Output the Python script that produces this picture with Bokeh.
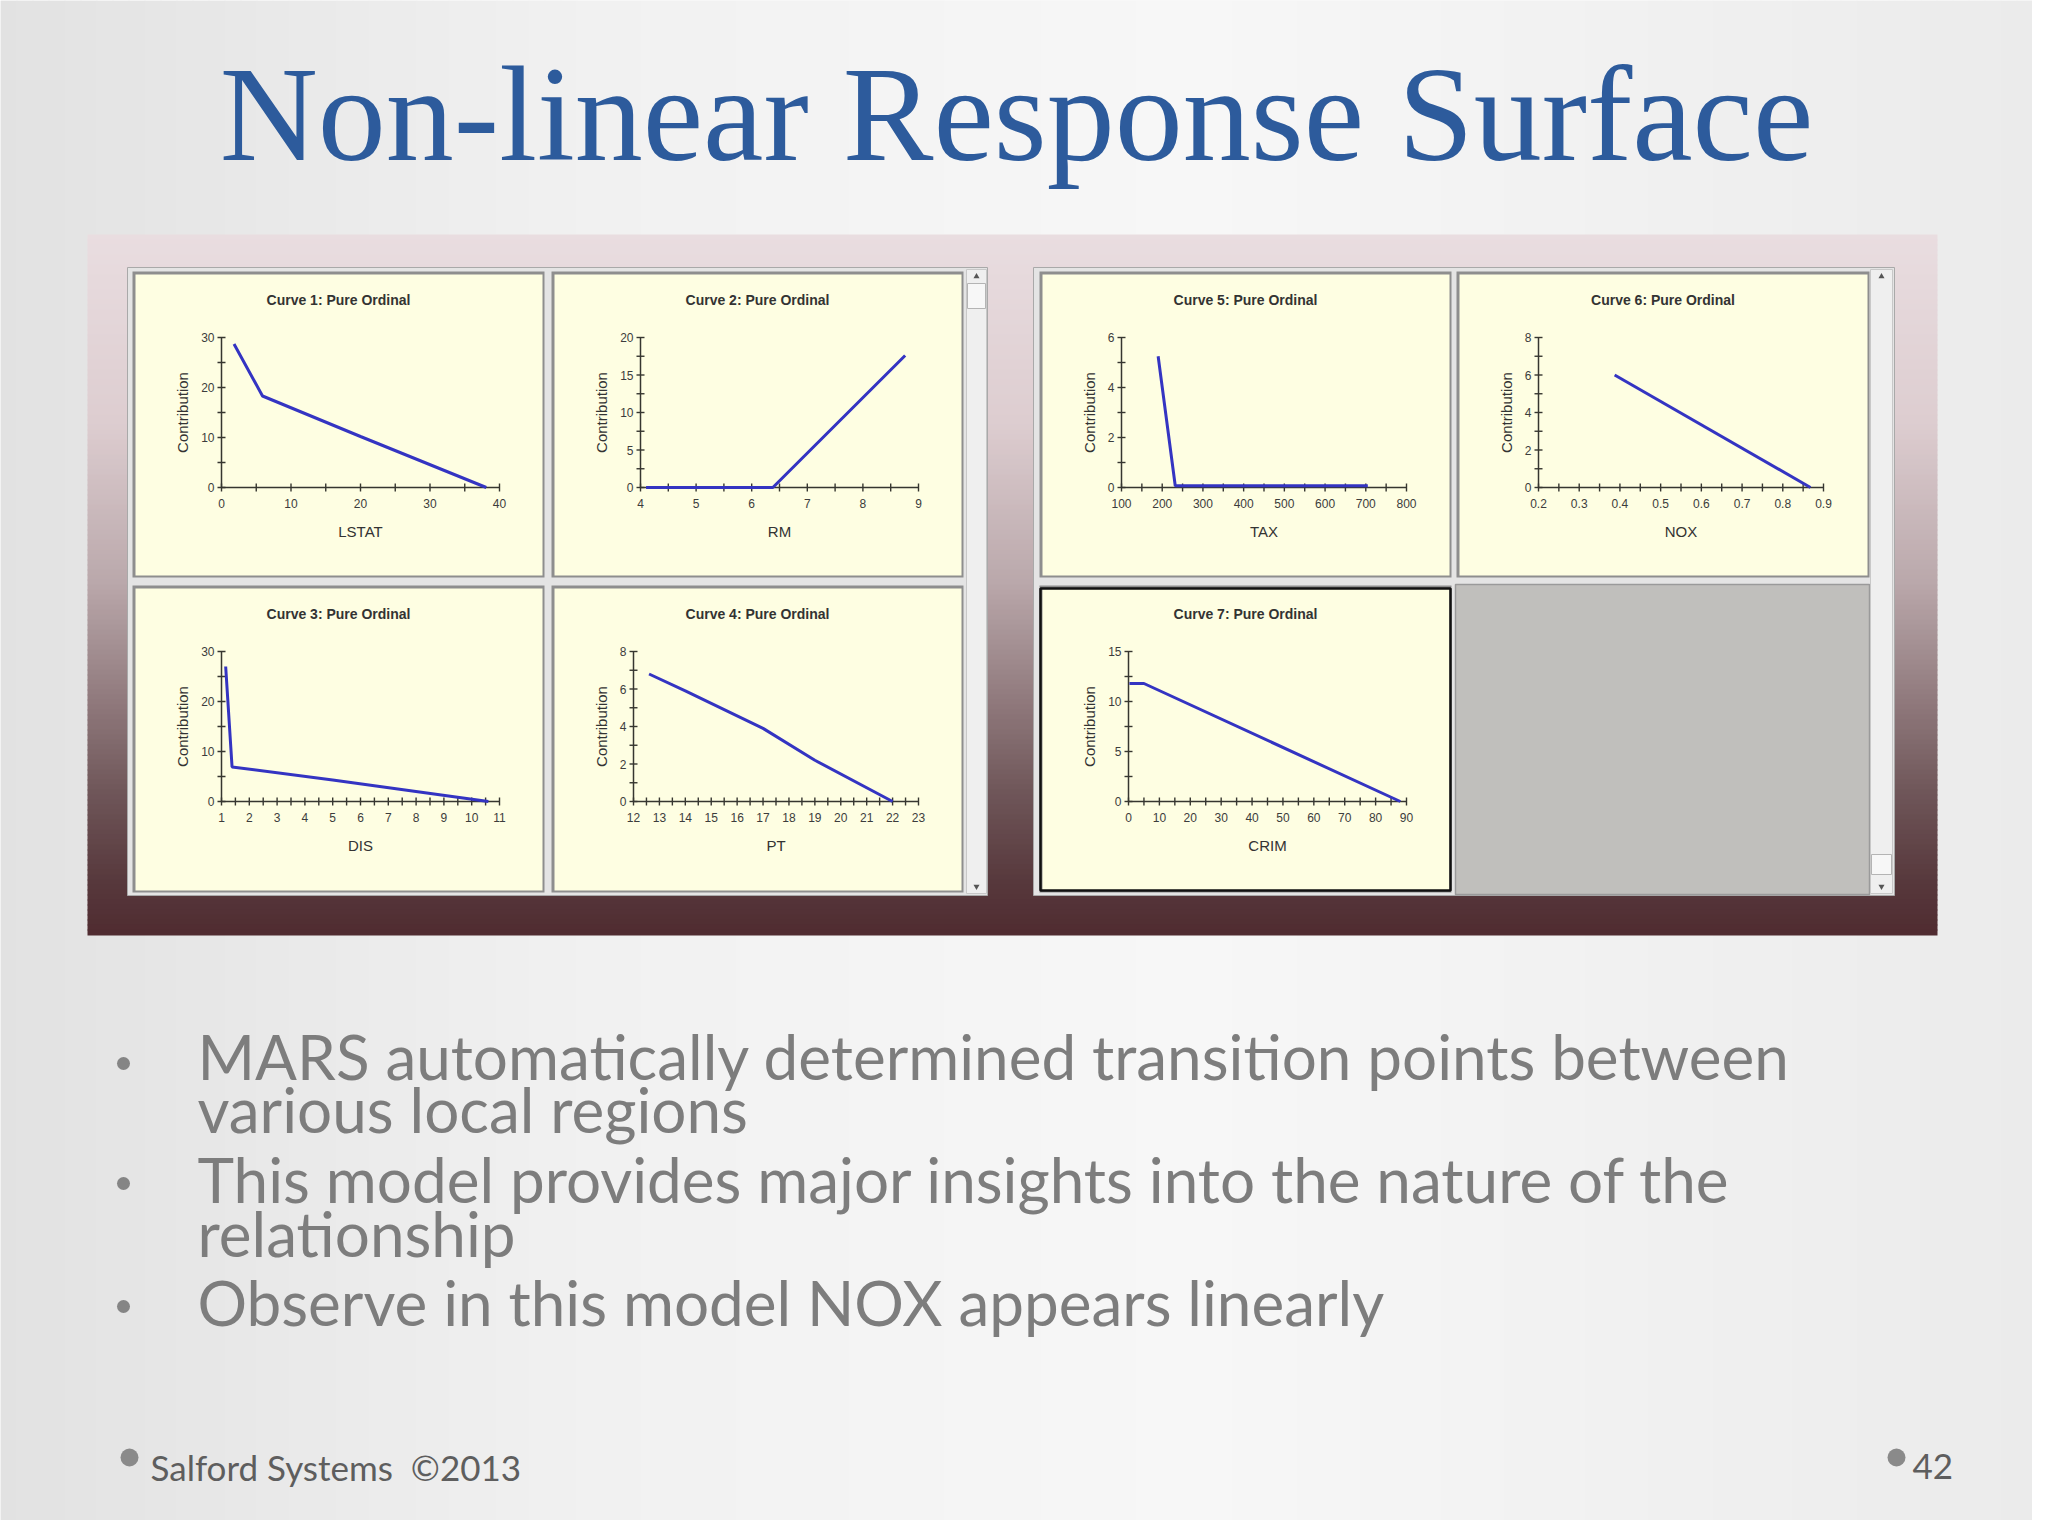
import numpy as np
from bokeh.plotting import figure
from bokeh.models import Range1d
from bokeh.core.properties import value
from bokeh.embed import file_html
from bokeh.resources import INLINE

# ---------------- data ----------------
slide_title = "Non-linear Response Surface"
bullet_lines = [
    "MARS automatically determined transition points between",
    "various local regions",
    "This model provides major insights into the nature of the",
    "relationship",
    "Observe in this model NOX appears linearly",
]
bullet_starts = [True, False, True, False, True]
footer_text = "Salford Systems \u00a0\u00a92013"
page_number = "42"

curve_titles = ["Curve 1: Pure Ordinal", "Curve 2: Pure Ordinal", "Curve 3: Pure Ordinal",
                "Curve 4: Pure Ordinal", "Curve 5: Pure Ordinal", "Curve 6: Pure Ordinal",
                "Curve 7: Pure Ordinal"]
variables = ["LSTAT", "RM", "DIS", "PT", "TAX", "NOX", "CRIM"]
y_axis_title = "Contribution"

lstat_x = [1.8, 5.9, 20.0, 38.1]
lstat_y = [28.7, 18.3, 10.2, 0.0]
rm_x = [4.1, 6.38, 8.76]
rm_y = [0.0, 0.0, 17.6]
dis_x = [1.15, 1.38, 5.0, 10.6]
dis_y = [27.0, 6.9, 4.3, 0.0]
pt_x = [12.6, 14.0, 17.0, 19.0, 22.0]
pt_y = [6.8, 5.9, 3.9, 2.2, 0.0]
tax_x = [190, 232, 705]
tax_y = [5.25, 0.07, 0.07]
nox_x = [0.387, 0.868]
nox_y = [6.0, 0.0]
crim_x = [0.3, 5.0, 88.0]
crim_y = [11.8, 11.8, 0.0]

curve_x = [lstat_x, rm_x, dis_x, pt_x, tax_x, nox_x, crim_x]
curve_y = [lstat_y, rm_y, dis_y, pt_y, tax_y, nox_y, crim_y]

x_limits = [(0, 40), (4, 9), (1, 11), (12, 23), (100, 800), (0.2, 0.9), (0, 90)]
y_limits = [(0, 30), (0, 20), (0, 30), (0, 8), (0, 6), (0, 8), (0, 15)]
x_major = [[0, 10, 20, 30, 40], [4, 5, 6, 7, 8, 9], [1, 2, 3, 4, 5, 6, 7, 8, 9, 10, 11],
           [12, 13, 14, 15, 16, 17, 18, 19, 20, 21, 22, 23],
           [100, 200, 300, 400, 500, 600, 700, 800],
           [0.2, 0.3, 0.4, 0.5, 0.6, 0.7, 0.8, 0.9],
           [0, 10, 20, 30, 40, 50, 60, 70, 80, 90]]
x_major_labels = [["0", "10", "20", "30", "40"], ["4", "5", "6", "7", "8", "9"],
                  ["1", "2", "3", "4", "5", "6", "7", "8", "9", "10", "11"],
                  ["12", "13", "14", "15", "16", "17", "18", "19", "20", "21", "22", "23"],
                  ["100", "200", "300", "400", "500", "600", "700", "800"],
                  ["0.2", "0.3", "0.4", "0.5", "0.6", "0.7", "0.8", "0.9"],
                  ["0", "10", "20", "30", "40", "50", "60", "70", "80", "90"]]
x_minor_step = [5, 0.5, 0.5, 0.5, 50, 0.05, 5]
y_major = [[0, 10, 20, 30], [0, 5, 10, 15, 20], [0, 10, 20, 30], [0, 2, 4, 6, 8],
           [0, 2, 4, 6], [0, 2, 4, 6, 8], [0, 5, 10, 15]]
y_major_labels = [["0", "10", "20", "30"], ["0", "5", "10", "15", "20"], ["0", "10", "20", "30"],
                  ["0", "2", "4", "6", "8"], ["0", "2", "4", "6"], ["0", "2", "4", "6", "8"],
                  ["0", "5", "10", "15"]]
y_minor_step = [5, 2.5, 5, 1, 1, 1, 2.5]

# ---------------- layout / style ----------------
W, H = 2032, 1520
OX, OY = 8, 8  # page margin: work in reference-pixel coordinates

panel_boxes = [(140, 279, 552, 585), (559, 279, 971, 585), (140, 593, 552, 900),
               (559, 593, 971, 900), (1047, 279, 1459, 585), (1464, 279, 1877, 585),
               (1047, 593, 1459, 900)]
selected_panel = 6

YELLOW = "#fefee2"
AXIS_C = "#363630"
LINE_C = "#3434c2"
TEXT_C = "#333333"
GRAY_TXT = "#7d7d7d"

CHART_FONT = value("Liberation Sans")


def hex2rgb(h):
    h = h.lstrip("#")
    return [int(h[i:i + 2], 16) for i in (0, 2, 4)]


def ramp(stops, v):
    for (a, ca), (b, cb) in zip(stops[:-1], stops[1:]):
        if a <= v <= b:
            t = (v - a) / (b - a) if b > a else 0
            ra, rb = hex2rgb(ca), hex2rgb(cb)
            c = [round(ra[k] + (rb[k] - ra[k]) * t) for k in range(3)]
            return "#%02x%02x%02x" % tuple(c)
    return stops[-1][1] if v > stops[-1][0] else stops[0][1]


p = figure(width=W, height=H, x_range=Range1d(OX, OX + W), y_range=Range1d(OY + H, OY),
           x_axis_location=None, y_axis_location=None, min_border=0,
           output_backend="svg", toolbar_location=None, title=None)
p.outline_line_color = None
p.grid.visible = False
p.background_fill_color = "#f2f2f2"
p.border_fill_color = "#f2f2f2"

# slide background (horizontal soft gradient)
bg_stops = [(8, "#e2e2e2"), (600, "#f1f1f1"), (1200, "#f7f7f7"), (2040, "#ebebeb")]
edges = np.arange(8, 2041, 16)
p.quad(left=edges[:-1], right=edges[1:] + 1, top=[OY] * (len(edges) - 1),
       bottom=[OY + H] * (len(edges) - 1),
       fill_color=[ramp(bg_stops, e + 8) for e in edges[:-1]], line_color=None)

# maroon gradient box
box_l, box_t, box_r, box_b = 95, 242, 1945, 945
box_stops = [(242, "#e9dde0"), (430, "#ddcdd0"), (590, "#baa8ab"), (700, "#937d80"),
             (800, "#6f5659"), (890, "#57383c"), (945, "#4f2b30")]
ys = np.arange(box_t, box_b + 1, 5)
p.quad(left=[box_l] * (len(ys) - 1), right=[box_r] * (len(ys) - 1), top=ys[:-1],
       bottom=np.minimum(ys[1:] + 1, box_b),
       fill_color=[ramp(box_stops, y + 2.5) for y in ys[:-1]], line_color=None)

# two application windows
for (wl, wt, wr, wb) in [(135, 275, 995, 903), (1041, 275, 1902, 903)]:
    p.quad(left=[wl], right=[wr], top=[wt], bottom=[wb], fill_color="#e4e4e4",
           line_color="#a9a9a9", line_width=1)

# empty grey cell in right window
p.quad(left=[1463], right=[1877], top=[592], bottom=[902], fill_color="#c0bfbc",
       line_color="#9a9a9a", line_width=1.5)

# scrollbars
for (sl, sr, st, sb, thumb) in [(974, 994, 277, 901, (291, 316)), (1878, 1900, 277, 901, (862, 882))]:
    p.quad(left=[sl], right=[sr], top=[st], bottom=[sb], fill_color="#efefef",
           line_color="#c8c8c8", line_width=1)
    p.quad(left=[sl + 1], right=[sr - 1], top=[thumb[0]], bottom=[thumb[1]],
           fill_color="#f7f7f7", line_color="#b4b4b4", line_width=1)
    cx = (sl + sr) / 2
    p.scatter(x=[cx], y=[st + 7], marker="triangle", size=6, fill_color="#555555",
              line_color=None)
    p.scatter(x=[cx], y=[sb - 7], marker="inverted_triangle", size=6,
              fill_color="#555555", line_color=None)

# ---------------- chart panels ----------------
for i, (L, T, R, B) in enumerate(panel_boxes):
    p.quad(left=[L], right=[R], top=[T], bottom=[B], fill_color="#8e8e8e", line_color=None)
    p.quad(left=[L + 3], right=[R - 2], top=[T + 3], bottom=[B - 2], fill_color=YELLOW,
           line_color=None)
    if i == selected_panel:
        p.quad(left=[L + 1], right=[R - 1], top=[T + 3], bottom=[B - 2], fill_color=None,
               line_color="#111111", line_width=2.5)

    wide = max(len(s) for s in y_major_labels[i]) > 1
    ax_l = L + (89 if wide else 82)
    ax_r = L + 367
    ax_t = T + 66
    ax_b = T + 216

    x0, x1 = x_limits[i]
    y0, y1 = y_limits[i]
    sub = p.subplot(x_source=Range1d(x0, x1), y_source=Range1d(y0, y1),
                    x_target=Range1d(ax_l, ax_r), y_target=Range1d(ax_b, ax_t))

    # axis lines
    sub.segment(x0=[x0, x0], y0=[y0, y0], x1=[x1, x0], y1=[y0, y1],
                line_color=AXIS_C, line_width=1.5)
    xm = np.arange(x0, x1 + x_minor_step[i] / 2, x_minor_step[i])
    ym = np.arange(y0, y1 + y_minor_step[i] / 2, y_minor_step[i])
    sub.scatter(x=xm, y=[y0] * len(xm), marker="dash", angle=np.pi / 2, size=8,
                line_color=AXIS_C, line_width=1.4)
    sub.scatter(x=[x0] * len(ym), y=ym, marker="dash", size=8,
                line_color=AXIS_C, line_width=1.4)
    # tick labels
    sub.text(x=x_major[i], y=[y0] * len(x_major[i]), text=x_major_labels[i],
             y_offset=11, text_align="center", text_baseline="top",
             text_font=CHART_FONT, text_font_size="12px", text_color="#3c3c3c")
    sub.text(x=[x0] * len(y_major[i]), y=y_major[i], text=y_major_labels[i],
             x_offset=-7, text_align="right", text_baseline="middle",
             text_font=CHART_FONT, text_font_size="12px", text_color="#3c3c3c")
    # the curve
    sub.line(x=curve_x[i], y=curve_y[i], line_color=LINE_C, line_width=3)

    # titles
    p.text(x=[(L + R) / 2], y=[T + 28], text=[curve_titles[i]], text_align="center",
           text_baseline="middle", text_font=CHART_FONT, text_font_style="bold",
           text_font_size="14px", text_color=TEXT_C)
    p.text(x=[(ax_l + ax_r) / 2], y=[ax_b + 44], text=[variables[i]], text_align="center",
           text_baseline="middle", text_font=CHART_FONT, text_font_size="15px",
           text_color=TEXT_C)
    p.text(x=[L + 50], y=[(ax_t + ax_b) / 2], text=[y_axis_title], angle=np.pi / 2,
           text_align="center", text_baseline="middle", text_font=CHART_FONT,
           text_font_size="15px", text_color=TEXT_C)

# ---------------- slide texts ----------------
p.text(x=[1024], y=[121], text=[slide_title], text_align="center",
       text_baseline="alphabetic", text_font=value("Liberation Serif"),
       text_font_size="136px", text_color="#2d5b9c")

line_baselines = [1063, 1116, 1186, 1240, 1309]
p.text(x=[205] * len(bullet_lines), y=line_baselines, text=bullet_lines,
       text_align="left", text_baseline="alphabetic", text_font=value("Lato"),
       text_font_size="62px", text_color=GRAY_TXT)
bullet_y = [1071, 1191, 1314]
p.scatter(x=[131] * len(bullet_y), y=bullet_y, marker="circle", size=13,
          fill_color="#858585", line_color=None)

# footer
p.scatter(x=[137, 1904], y=[1465, 1465], marker="circle", size=18,
          fill_color="#8a8a8a", line_color=None)
p.text(x=[158], y=[1474], text=[footer_text], text_align="left",
       text_baseline="alphabetic", text_font=value("Lato"), text_font_size="35px",
       text_color="#5e5e5e")
p.text(x=[1920], y=[1474], text=[page_number], text_align="left",
       text_baseline="alphabetic", text_font=value("Lato"), text_font_size="35px",
       text_color="#5e5e5e")

open("out.html", "w").write(file_html(p, INLINE))
